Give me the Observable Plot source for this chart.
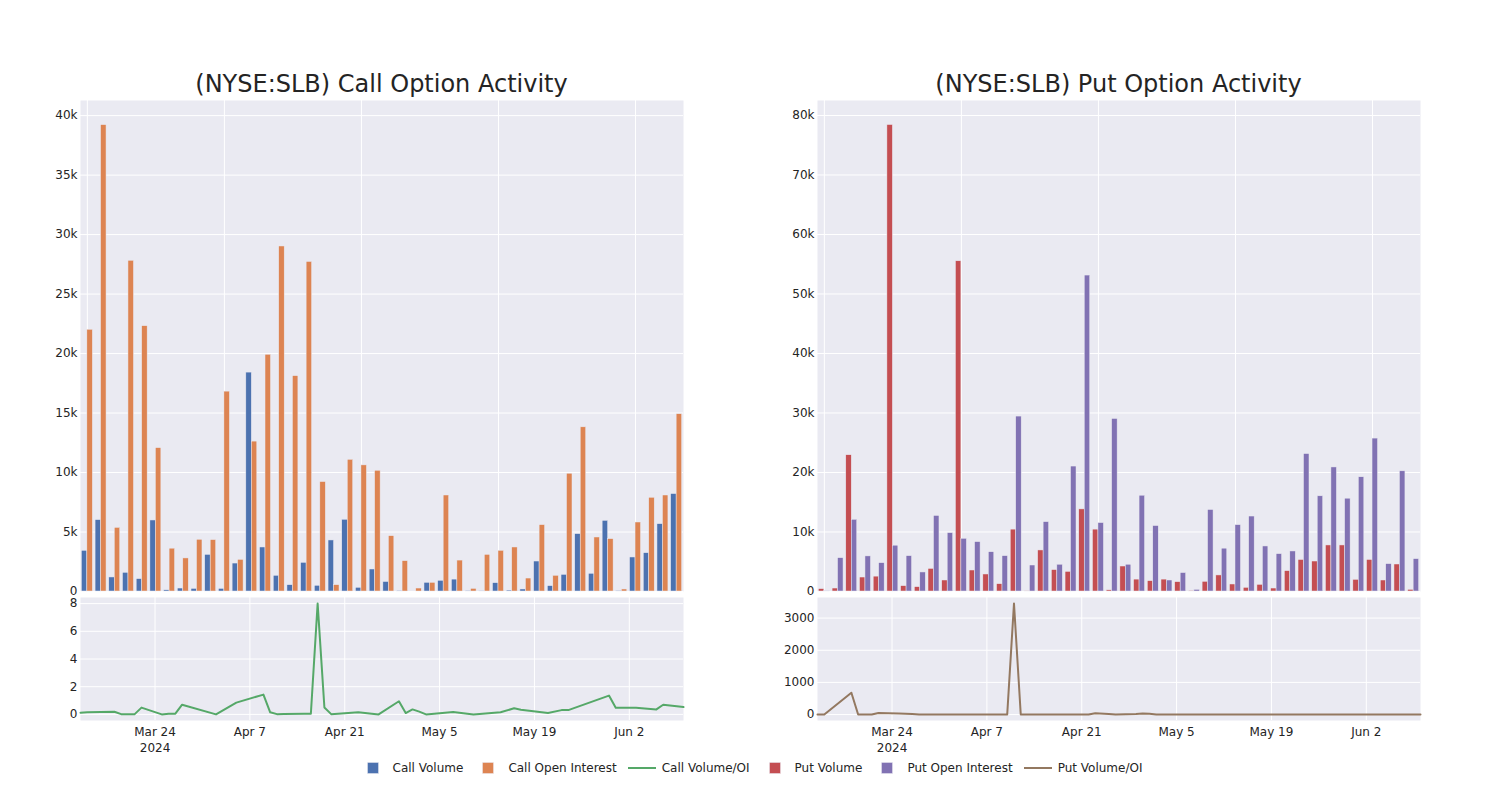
<!DOCTYPE html>
<html>
<head>
<meta charset="utf-8">
<script src="https://cdn.jsdelivr.net/npm/d3@7"></script>
<script src="https://cdn.jsdelivr.net/npm/@observablehq/plot@0.6"></script>
<style>
  body { margin: 0; background: #fff; font-family: "DejaVu Sans", sans-serif; color: rgb(36,36,36); }
  #root { position: relative; width: 1500px; height: 800px; overflow: hidden; }
  .title { position: absolute; top: 68px; width: 603px; height: 32px; line-height: 32px; font-size: 24px; text-align: center; white-space: nowrap; }
  .abs { position: absolute; }
  #legend { position: absolute; top: 759px; left: 0; width: 1500px; height: 18px; display: flex; justify-content: center; align-items: center; font-size: 12px; }
  .item { display: flex; align-items: center; margin-right: 10px; }
  .item:last-child { margin-right: 0; }
  .item svg { display: block; }
  .item span { margin-left: 5px; white-space: nowrap; }
</style>
</head>
<body>
<div id="root">
  <div class="title" style="left:80px">(NYSE:SLB) Call Option Activity</div>
  <div class="title" style="left:817px">(NYSE:SLB) Put Option Activity</div>
  <div id="callBars" class="abs" style="left:0;top:90px"></div>
  <div id="callLine" class="abs" style="left:0;top:590px"></div>
  <div id="putBars" class="abs" style="left:737px;top:90px"></div>
  <div id="putLine" class="abs" style="left:737px;top:590px"></div>
  <div id="legend"></div>
</div>
<script>
// ---------------- data ----------------
const dates = ["2024-03-13","2024-03-14","2024-03-18","2024-03-19","2024-03-21","2024-03-22","2024-03-25","2024-03-26","2024-03-27","2024-03-28",
  "2024-04-02","2024-04-05","2024-04-09","2024-04-10","2024-04-11","2024-04-12","2024-04-15","2024-04-16","2024-04-17","2024-04-18",
  "2024-04-19","2024-04-22","2024-04-23","2024-04-25","2024-04-26","2024-04-29","2024-04-30","2024-05-01","2024-05-02","2024-05-03",
  "2024-05-07","2024-05-10","2024-05-14","2024-05-16","2024-05-17","2024-05-21","2024-05-23","2024-05-24","2024-05-30","2024-05-31",
  "2024-06-03","2024-06-06","2024-06-07","2024-06-10"];

const callVolume = [3420,6000,1180,1570,1040,5970,100,250,220,3080,
  220,2350,18400,3700,1320,530,2410,480,4290,6030,
  310,1850,800,50,0,730,900,1000,50,30,
  700,80,170,2520,450,1400,4820,1490,5940,50,
  2860,3220,5660,8190];
const callOpenInterest = [22000,39200,5350,27800,22300,12050,3600,2780,4350,4320,
  16800,2660,12600,19900,29000,18100,27700,9200,530,11070,
  10600,10150,4650,2550,250,730,8070,2600,220,3080,
  3420,3700,1090,5580,1320,9900,13800,4540,4400,170,
  5800,7880,8070,14900];
const callVolumeOI = [0.12,0.15,0.19,0.02,0.02,0.49,0.0,0.05,0.05,0.7,
  0.0,0.85,1.43,0.15,0.02,0.03,0.05,0.05,8.0,0.5,
  0.02,0.12,0.15,0.05,0.0,0.95,0.1,0.36,0.2,0.0,
  0.17,0.0,0.15,0.44,0.34,0.1,0.31,0.31,1.36,0.48,
  0.48,0.36,0.7,0.53];

const putVolume = [400,500,22900,2350,2500,78400,900,730,3800,1850,
  55500,3530,2860,1230,10400,50,6900,3600,3300,13800,
  10400,200,4200,2000,1740,2000,1570,100,1630,2700,
  1180,620,1120,500,3420,5300,5040,7740,7740,1960,
  5300,1850,4540,280];
const putOpenInterest = [50,5600,12050,5900,4760,7700,5940,3200,12700,9800,
  8860,8300,6600,5940,29400,4370,11660,4500,21000,53100,
  11500,29000,4500,16100,11000,1850,3100,280,13700,7200,
  11150,12600,7570,6280,6730,23100,16000,20850,15600,19200,
  25700,4600,20200,5440];
const putVolumeOI = [0,0,680,0,0,50,30,25,20,5,
  0,0,0,0,3450,0,0,0,0,0,
  0,0,40,20,5,20,30,25,0,0,
  0,0,0,0,0,0,0,0,0,0,
  0,0,0,0];

const callBarTicks = [0,5000,10000,15000,20000,25000,30000,35000,40000];
const putBarTicks = [0,10000,20000,30000,40000,50000,60000,70000,80000];
const callLineTicks = [0,2,4,6,8];
const putLineTicks = [0,1000,2000,3000];
const dateTicks = ["2024-03-24","2024-04-07","2024-04-21","2024-05-05","2024-05-19","2024-06-02"];
const dateDomain = ["2024-03-13","2024-06-10"];

const colors = {
  callVol: "rgb(76,114,176)", callOI: "rgb(221,132,82)", callRatio: "rgb(85,168,104)",
  putVol: "rgb(196,78,82)", putOI: "rgb(129,114,179)", putRatio: "rgb(147,120,96)"
};

// ---------------- helpers ----------------
const BG = "rgb(234,234,242)";
const FONT = {fontFamily: "'DejaVu Sans', sans-serif", fontSize: "12px", color: "rgb(36,36,36)", background: "transparent", overflow: "visible"};
const kFmt = d => d === 0 ? "0" : (d / 1000) + "k";
const n = dates.length;
const gridIdx = d3.range(0, n, 10);

function barChart(vol, oi, cVol, cOI, ticks, yMax) {
  const rows = [];
  dates.forEach((d, i) => {
    rows.push({i, s: 0, v: vol[i]});
    rows.push({i, s: 1, v: oi[i]});
  });
  return Plot.plot({
    width: 700, height: 501,
    marginLeft: 80, marginRight: 17, marginTop: 10, marginBottom: 0,
    style: FONT,
    x: {type: "linear", domain: [-0.5, n - 0.5], axis: null},
    y: {domain: [0, yMax], ticks: ticks, tickFormat: kFmt, tickSize: 0, tickPadding: 3, label: null},
    marks: [
      Plot.frame({fill: BG, stroke: "none"}),
      Plot.ruleY(ticks, {stroke: "white", strokeWidth: 1}),
      Plot.ruleX(gridIdx, {stroke: "white", strokeWidth: 1}),
      Plot.rectY(rows, {
        x1: r => r.i - 0.4 + r.s * 0.4,
        x2: r => r.i + r.s * 0.4,
        y: "v",
        fill: r => r.s === 0 ? cVol : cOI,
        stroke: BG, strokeWidth: 0.5
      })
    ]
  });
}

const firstTick = new Date(dateTicks[0]).getTime();
const dFmt = d3.utcFormat("%b %-d");
const xTickFmt = d => d.getTime() === firstTick ? dFmt(d) + "\n2024" : dFmt(d);
const hasAxisMarks = typeof Plot.axisX === "function";

function lineChart(values, color, ticks, yDomain, yFmt) {
  const pts = dates.map((d, i) => ({date: new Date(d), v: values[i]}));
  const tickDates = dateTicks.map(d => new Date(d));
  const marks = [
    Plot.frame({fill: BG, stroke: "none"}),
    Plot.ruleY(ticks, {stroke: "white", strokeWidth: 1}),
    Plot.ruleX(tickDates, {stroke: "white", strokeWidth: 1}),
    Plot.line(pts, {x: "date", y: "v", stroke: color, strokeWidth: 2})
  ];
  if (hasAxisMarks) {
    marks.push(Plot.axisX(tickDates, {tickSize: 0, tickPadding: 4, tickFormat: xTickFmt, lineHeight: 1.35, label: null}));
  }
  return Plot.plot({
    width: 700, height: 170,
    marginLeft: 80, marginRight: 17, marginTop: 7, marginBottom: 40,
    style: FONT,
    x: hasAxisMarks
      ? {type: "utc", domain: dateDomain.map(d => new Date(d))}
      : {type: "utc", domain: dateDomain.map(d => new Date(d)), ticks: tickDates, tickFormat: xTickFmt, tickSize: 0, tickPadding: 4, label: null},
    y: {domain: yDomain, ticks: ticks, tickFormat: yFmt, tickSize: 0, tickPadding: 3, label: null},
    marks
  });
}

document.getElementById("callBars").append(barChart(callVolume, callOpenInterest, colors.callVol, colors.callOI, callBarTicks, 41270));
document.getElementById("putBars").append(barChart(putVolume, putOpenInterest, colors.putVol, colors.putOI, putBarTicks, 82520));
document.getElementById("callLine").append(lineChart(callVolumeOI, colors.callRatio, callLineTicks, [-0.44, 8.44], d => String(d)));
document.getElementById("putLine").append(lineChart(putVolumeOI, colors.putRatio, putLineTicks, [-185, 3640], d => String(d)));

// ---------------- legend ----------------
const legendItems = [
  {label: "Call Volume", color: colors.callVol, kind: "bar"},
  {label: "Call Open Interest", color: colors.callOI, kind: "bar"},
  {label: "Call Volume/OI", color: colors.callRatio, kind: "line"},
  {label: "Put Volume", color: colors.putVol, kind: "bar"},
  {label: "Put Open Interest", color: colors.putOI, kind: "bar"},
  {label: "Put Volume/OI", color: colors.putRatio, kind: "line"}
];
const legend = document.getElementById("legend");
legendItems.forEach(it => {
  const el = document.createElement("div");
  el.className = "item";
  const sym = it.kind === "bar"
    ? `<svg width="30" height="18"><rect x="9.5" y="3.5" width="11" height="11" fill="${it.color}" stroke="${BG}" stroke-width="0.5"/></svg>`
    : `<svg width="30" height="18"><line x1="1" x2="29" y1="9" y2="9" stroke="${it.color}" stroke-width="2"/></svg>`;
  el.innerHTML = sym + `<span>${it.label}</span>`;
  legend.append(el);
});
</script>
</body>
</html>
